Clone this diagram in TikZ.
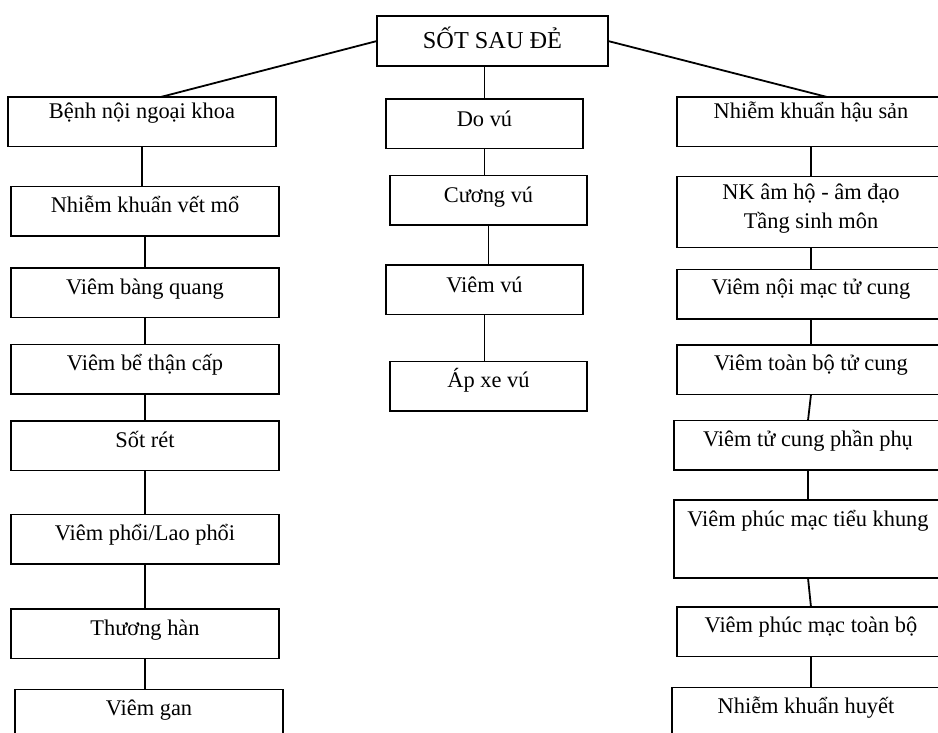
\documentclass[tikz,border=0pt]{standalone}
\usepackage{fontspec}
\setmainfont{Liberation Serif}
\usetikzlibrary{positioning, calc}

\begin{document}
\begin{tikzpicture}[
        x=1pt, y=-1pt,
        node distance=30pt,
        topbox/.style={draw, line width=1.8pt, outer sep=0pt, minimum width=231pt, inner sep=0pt, text height=33pt, text depth=17pt, font=\fontsize{24.3}{28}\selectfont},
        box/.style={draw, line width=1.8pt, outer sep=0pt, minimum width=268pt, inner sep=0pt, text height=26pt, text depth=23.5pt, align=center, font=\fontsize{22.4}{29}\selectfont},
        midbox/.style={box, minimum width=197pt, text height=27.5pt, text depth=22pt},
        twoline/.style={box, text height=52pt, text depth=19pt},
        link/.style={line width=1.8pt}
    ]
        \useasboundingbox (0,0) rectangle (938,733);

        % Root
        \node[topbox, anchor=north west] (sot) at (377,16) {SỐT SAU ĐẺ};

        % Left column
        \node[box, anchor=north west, text height=22pt, text depth=27.5pt] (benh) at (8,97) {Bệnh nội ngoại khoa};
        \node[box, below=40pt of benh, xshift=3pt] (vetmo) {Nhiễm khuẩn vết mổ};
        \node[box, below=32pt of vetmo] (bangquang) {Viêm bàng quang};
        \node[box, below=27pt of bangquang] (bethan) {Viêm bể thận cấp};
        \node[box, below=27pt of bethan] (sotret) {Sốt rét};
        \node[box, below=44pt of sotret] (phoi) {Viêm phổi/Lao phổi};
        \node[box, below=45pt of phoi] (thuonghan) {Thương hàn};
        \node[box, below=31pt of thuonghan, xshift=4pt] (gan) {Viêm gan};

        % Middle column
        \node[midbox, anchor=north west] (dovu) at (386,99) {Do vú};
        \node[midbox, below=27pt of dovu, xshift=4pt] (cuongvu) {Cương vú};
        \node[midbox, below=40pt of cuongvu, xshift=-4pt] (viemvu) {Viêm vú};
        \node[midbox, below=47pt of viemvu, xshift=4pt, text height=26pt, text depth=23.5pt] (apxe) {Áp xe vú};

        % Right column
        \node[box, anchor=north west, text height=21.5pt, text depth=28pt] (hausan) at (677,97) {Nhiễm khuẩn hậu sản};
        \node[twoline, below=30pt of hausan] (amho) {NK âm hộ - âm đạo\\Tầng sinh môn};
        \node[box, below=22pt of amho, text height=25pt, text depth=24.5pt] (noimac) {Viêm nội mạc tử cung};
        \node[box, below=26pt of noimac, text height=25pt, text depth=24.5pt] (toanbo) {Viêm toàn bộ tử cung};
        \node[box, below=26pt of toanbo, xshift=-3pt] (phanphu) {Viêm tử cung phần phụ};
        \node[box, below=30pt of phanphu, text depth=52pt] (tieukhung) {Viêm phúc mạc tiểu khung};
        \node[box, below=29pt of tieukhung, xshift=3pt, text height=25pt, text depth=24.5pt] (phucmac) {Viêm phúc mạc toàn bộ};
        \node[box, below=31pt of phucmac, xshift=-5pt] (huyet) {Nhiễm khuẩn huyết};

        % Root links
        \draw[link] (sot.west) -- ($(benh.north west)!0.57!(benh.north east)$);
        \draw[link] (sot.south -| dovu.north) -- (dovu.north);
        \draw[link] (sot.east) -- ($(hausan.north west)!0.56!(hausan.north east)$);

        % Column links, straight down
        \foreach \a/\b in {benh/vetmo, vetmo/bangquang, bangquang/bethan, bethan/sotret, sotret/phoi, phoi/thuonghan, thuonghan/gan,
                dovu/cuongvu, cuongvu/viemvu, viemvu/apxe,
                hausan/amho, amho/noimac, noimac/toanbo, phanphu/tieukhung, phucmac/huyet}
            \draw[link] (\a.south) -- (\a.south |- \b.north);

        % Column links, slanted
        \foreach \a/\b in {toanbo/phanphu, tieukhung/phucmac}
            \draw[link] (\a.south) -- (\b.north);
\end{tikzpicture}
\end{document}
